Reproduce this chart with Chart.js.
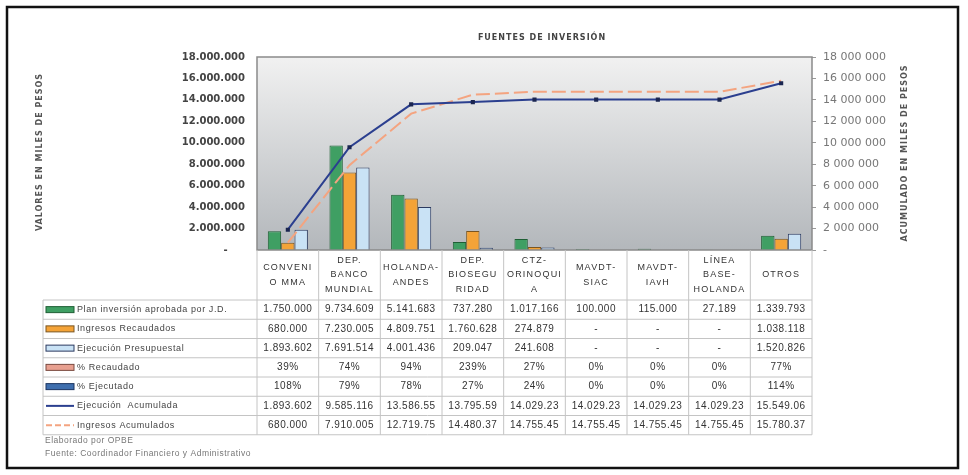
<!DOCTYPE html>
<html>
<head>
<meta charset="utf-8">
<script src="https://cdn.jsdelivr.net/npm/chart.js@4/dist/chart.umd.min.js"></script>
<style>
  html, body { margin: 0; background: #fff; }
  #wrap { position: relative; width: 968px; height: 475px; }
</style>
</head>
<body>
<div id="wrap"><canvas id="chart" width="968" height="475"></canvas></div>
<script>
// Data
const categories = [
  ['CONVENI', 'O MMA'], ['DEP.', 'BANCO', 'MUNDIAL'], ['HOLANDA-', 'ANDES'],
  ['DEP.', 'BIOSEGU', 'RIDAD'], ['CTZ-', 'ORINOQUI', 'A'], ['MAVDT-', 'SIAC'],
  ['MAVDT-', 'IAvH'], ['LÍNEA', 'BASE-', 'HOLANDA'], ['OTROS']
];
const planInversion = [1750000, 9734609, 5141683, 737280, 1017166, 100000, 115000, 27189, 1339793];
const ingresosRecaudados = [680000, 7230005, 4809751, 1760628, 274879, 0, 0, 0, 1038118];
const ejecucionPresupuestal = [1893602, 7691514, 4001436, 209047, 241608, 0, 0, 0, 1520826];
const pctRecaudado = [39, 74, 94, 239, 27, 0, 0, 0, 77];
const pctEjecutado = [108, 79, 78, 27, 24, 0, 0, 0, 114];
const ejecucionAcumulada = [1893602, 9585116, 13586552, 13795599, 14029230, 14029230, 14029230, 14029230, 15549060];
const ingresosAcumulados = [680000, 7910005, 12719756, 14480370, 14755450, 14755450, 14755450, 14755450, 15780370];
const axisMax = 18000000;
const axisStep = 2000000;

const seriesNames = ['Plan inversión aprobada por J.D.', 'Ingresos Recaudados', 'Ejecución Presupuestal',
  '% Recaudado', '% Ejecutado', 'Ejecución  Acumulada', 'Ingresos Acumulados'];

const colors = {
  plan: ['#3f9f63', '#1f5f35'],
  ingresos: ['#f4a337', '#7a5520'],
  ejecucion: ['#c9e2f5', '#2b3a60'],
  pctRec: ['#e8a090', '#7a4a40'],
  pctEje: ['#3f6fae', '#1c3560'],
  ejeAcum: '#2b3f8f',
  ingAcum: '#f4a480'
};

function dots(n) {
  return String(Math.round(n)).replace(/\B(?=(\d{3})+(?!\d))/g, '.');
}
function money(n) { return n ? dots(n) : '-'; }

// table rows: key type, colors, cell texts
const tableRows = [
  { type: 'bar', c: colors.plan, cells: planInversion.map(money) },
  { type: 'bar', c: colors.ingresos, cells: ingresosRecaudados.map(money) },
  { type: 'bar', c: colors.ejecucion, cells: ejecucionPresupuestal.map(money) },
  { type: 'bar', c: colors.pctRec, cells: pctRecaudado.map(v => v + '%') },
  { type: 'bar', c: colors.pctEje, cells: pctEjecutado.map(v => v + '%') },
  { type: 'line', c: colors.ejeAcum, cells: ejecucionAcumulada.map(v => dots(v).slice(0, 9)) },
  { type: 'dash', c: colors.ingAcum, cells: ingresosAcumulados.map(v => dots(v).slice(0, 9)) }
];

const decor = {
  id: 'decor',
  beforeDraw(chart) {
    const { ctx, chartArea: a } = chart;
    ctx.save();
    const g = ctx.createLinearGradient(0, a.top, 0, a.bottom);
    g.addColorStop(0, '#f1f1f1');
    g.addColorStop(1, '#b3b7bb');
    ctx.fillStyle = g;
    ctx.fillRect(a.left, a.top, a.right - a.left, a.bottom - a.top);
    ctx.restore();
  },
  afterDraw(chart) {
    const { ctx, chartArea: a } = chart;
    const x = chart.scales.x;
    ctx.save();
    // plot border
    ctx.strokeStyle = '#8a8a8a';
    ctx.lineWidth = 1.5;
    ctx.strokeRect(a.left, a.top, a.right - a.left, a.bottom - a.top);

    // title and axis titles
    ctx.fillStyle = '#444';
    ctx.font = 'bold 8px "DejaVu Sans"';
    ctx.letterSpacing = '1px';
    ctx.textAlign = 'center';
    ctx.textBaseline = 'middle';
    ctx.fillText('FUENTES DE INVERSIÓN', 542, 38);
    ctx.fillStyle = '#555';
    ctx.save();
    ctx.translate(40, 152);
    ctx.rotate(-Math.PI / 2);
    ctx.fillText('VALORES EN MILES DE PESOS', 0, 0);
    ctx.restore();
    ctx.save();
    ctx.translate(905, 153);
    ctx.rotate(-Math.PI / 2);
    ctx.fillText('ACUMULADO EN MILES DE PESOS', 0, 0);
    ctx.restore();

    // data table under the plot, columns from the category scale
    const colW = x.getPixelForValue(1) - x.getPixelForValue(0);
    const edges = categories.map((_, i) => x.getPixelForValue(i) - colW / 2);
    edges.push(x.getPixelForValue(categories.length - 1) + colW / 2);
    const headTop = a.bottom, rowTop = 300, rowH = 19.25, tLeft = 43;
    const tBottom = rowTop + rowH * tableRows.length;

    ctx.strokeStyle = '#c4c4c4';
    ctx.lineWidth = 1;
    ctx.beginPath();
    edges.forEach(e => { ctx.moveTo(e, headTop); ctx.lineTo(e, tBottom); });
    ctx.moveTo(tLeft, rowTop); ctx.lineTo(tLeft, tBottom);
    for (let r = 0; r <= tableRows.length; r++) {
      ctx.moveTo(tLeft, rowTop + r * rowH);
      ctx.lineTo(edges[edges.length - 1], rowTop + r * rowH);
    }
    ctx.stroke();

    // header
    ctx.fillStyle = '#333';
    ctx.font = '9px "Liberation Sans"';
    ctx.letterSpacing = '1.2px';
    ctx.textAlign = 'center';
    categories.forEach((lines, i) => {
      const cx = x.getPixelForValue(i);
      const mid = (headTop + rowTop) / 2;
      lines.forEach((t, k) => {
        ctx.fillText(t, cx, mid + (k - (lines.length - 1) / 2) * 14.5);
      });
    });

    // rows
    tableRows.forEach((row, r) => {
      const cy = rowTop + r * rowH + rowH / 2;
      if (row.type === 'bar') {
        ctx.fillStyle = row.c[0];
        ctx.strokeStyle = row.c[1];
        ctx.fillRect(46, cy - 3, 28, 6);
        ctx.strokeRect(46, cy - 3, 28, 6);
      } else {
        ctx.strokeStyle = row.c;
        ctx.lineWidth = 2;
        ctx.setLineDash(row.type === 'dash' ? [6, 3] : []);
        ctx.beginPath();
        ctx.moveTo(46, cy); ctx.lineTo(74, cy);
        ctx.stroke();
        ctx.setLineDash([]);
        ctx.lineWidth = 1;
      }
      ctx.fillStyle = '#444';
      ctx.font = '9px "Liberation Sans"';
      ctx.letterSpacing = '0.6px';
      ctx.textAlign = 'left';
      ctx.fillText(seriesNames[r], 77, cy);
      ctx.fillStyle = '#333';
      ctx.font = '10px "Liberation Sans"';
      ctx.letterSpacing = '0.5px';
      ctx.textAlign = 'center';
      row.cells.forEach((t, i) => ctx.fillText(t, x.getPixelForValue(i), cy));
    });

    // footnotes
    ctx.fillStyle = '#777';
    ctx.font = '8.5px "Liberation Sans"';
    ctx.letterSpacing = '0.5px';
    ctx.textAlign = 'left';
    ctx.fillText('Elaborado por OPBE', 45, 441);
    ctx.fillText('Fuente: Coordinador Financiero y Administrativo', 45, 454);

    // outer frame
    ctx.letterSpacing = '0px';
    ctx.strokeStyle = '#111';
    ctx.lineWidth = 2.5;
    ctx.strokeRect(7, 7, 951, 461);
    ctx.restore();
  }
};

const barBase = { type: 'bar', yAxisID: 'y', order: 2, borderWidth: 1, barPercentage: 1, categoryPercentage: 0.65 };

new Chart(document.getElementById('chart'), {
  data: {
    labels: categories,
    datasets: [
      { ...barBase, label: seriesNames[0], data: planInversion, backgroundColor: colors.plan[0], borderColor: colors.plan[1] },
      { ...barBase, label: seriesNames[1], data: ingresosRecaudados, backgroundColor: colors.ingresos[0], borderColor: colors.ingresos[1] },
      { ...barBase, label: seriesNames[2], data: ejecucionPresupuestal, backgroundColor: colors.ejecucion[0], borderColor: colors.ejecucion[1] },
      { type: 'line', label: seriesNames[5], data: ejecucionAcumulada, yAxisID: 'y1', order: 0,
        borderColor: colors.ejeAcum, borderWidth: 2, tension: 0,
        pointStyle: 'rect', pointRadius: 1.5, pointBackgroundColor: '#1a2550', pointBorderColor: '#1a2550' },
      { type: 'line', label: seriesNames[6], data: ingresosAcumulados, yAxisID: 'y1', order: 1,
        borderColor: colors.ingAcum, borderWidth: 2, borderDash: [14, 5], tension: 0, pointRadius: 0 }
    ]
  },
  options: {
    responsive: false,
    animation: false,
    layout: { padding: { top: 57, bottom: 225, left: 0, right: 0 } },
    plugins: { legend: { display: false }, tooltip: { enabled: false } },
    scales: {
      x: { display: false, offset: true },
      y: {
        position: 'left', min: 0, max: axisMax,
        afterFit: s => { s.width = 257; },
        grid: { display: false, drawTicks: false },
        border: { display: false },
        ticks: {
          stepSize: axisStep, padding: 12, color: '#444',
          font: { family: 'DejaVu Sans', size: 10, weight: 'bold' },
          callback: v => v === 0 ? '-     ' : dots(v)
        }
      },
      y1: {
        position: 'right', min: 0, max: axisMax,
        afterFit: s => { s.width = 156; },
        grid: { display: true, drawOnChartArea: false, drawTicks: true, tickLength: 4, color: '#999' },
        border: { display: false },
        ticks: {
          stepSize: axisStep, padding: 7, color: '#777',
          font: { family: 'DejaVu Sans', size: 11 },
          callback: v => v === 0 ? '-' : String(v).replace(/\B(?=(\d{3})+(?!\d))/g, ' ')
        }
      }
    }
  },
  plugins: [decor]
});
</script>
</body>
</html>
